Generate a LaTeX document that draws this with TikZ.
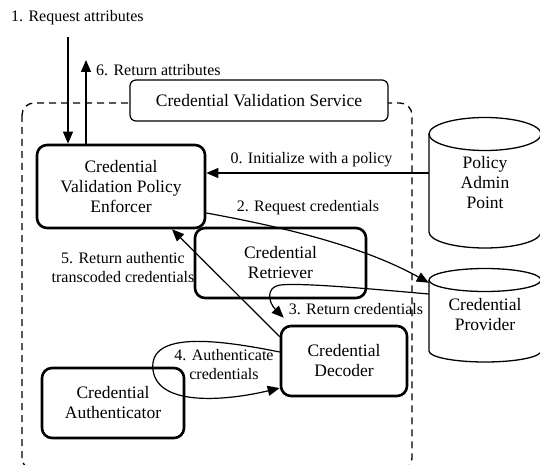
\documentclass[tikz,border=0pt]{standalone}
\usepackage{fontspec}
\setmainfont{Liberation Serif}
\usetikzlibrary{arrows.meta,calc}
\begin{document}
\begin{tikzpicture}[x=1pt,y=-1pt,
 box/.style={draw, line width=2.6pt, rounded corners=10pt, fill=white, align=center, font=\fontsize{17.5}{20}\selectfont, inner sep=0pt},
 cyltext/.style={align=center, font=\fontsize{17.5}{20}\selectfont, inner sep=0pt},
 cyl/.style={line width=1.3pt},
 lbl/.style={font=\fontsize{16}{19}\selectfont, align=center, inner sep=0pt},
 arr/.style={line width=1.2pt, -{Triangle[length=12pt,width=10pt]}},
]
\useasboundingbox (0,0) rectangle (540,465);
% dashed service boundary
\draw[line width=1.3pt, dash pattern=on 7pt off 5pt, rounded corners=12pt] (22,103) rectangle (412,470);
% service title box
\node[draw, line width=1.2pt, rounded corners=6pt, fill=white, font=\fontsize{17.5}{20}\selectfont, minimum width=258pt, minimum height=41pt, inner sep=0pt] (cvs) at (259,100.5) {Credential Validation Service};
% boxes
\node[box, minimum width=168pt, minimum height=83pt] (enf) at (121,186.5) {Credential\\Validation Policy\\Enforcer};
\node[box, minimum width=171pt, minimum height=70pt] (ret) at (280.5,263) {Credential\\Retriever};
\node[box, minimum width=126pt, minimum height=70pt] (dec) at (344,361) {Credential\\Decoder};
\node[box, minimum width=142pt, minimum height=70pt] (aut) at (113,403) {Credential\\Authenticator};
% cylinders
\draw[cyl, fill=white] (429,134) -- (429,232) arc[start angle=180, end angle=360, x radius=56pt, y radius=16pt] -- (541,134);
\draw[cyl, fill=white] (485,134) ellipse [x radius=56pt, y radius=16.5pt];
\node[cyltext, minimum width=112pt, minimum height=130pt] (pap) at (485,183) {Policy\\Admin\\Point};
\draw[cyl, fill=white] (429,280) -- (429,351) arc[start angle=180, end angle=360, x radius=56pt, y radius=11pt] -- (541,280);
\draw[cyl, fill=white] (485,280) ellipse [x radius=56pt, y radius=11.5pt];
\node[cyltext, minimum width=112pt, minimum height=94pt] (prov) at (485,315) {Credential\\Provider};
% connectors
\coordinate (t1) at (68,37);
\draw[arr] (t1) -- (t1 |- enf.north);
\coordinate (t6) at (86,60);
\draw[arr] (t6 |- enf.north) -- (t6);
\coordinate (p0) at ([yshift=10pt]pap.west);
\draw[arr] (p0) -- (p0 -| enf.east);
\draw[arr] ([yshift=-26.5pt]enf.east) .. controls (300,230) and (370,250) .. ([yshift=-15pt]prov.north west);
\draw[arr] ([yshift=21pt]prov.west) .. controls (350,287) and (300,283) .. (280,285) .. controls (266,287) and (268,302) .. ([xshift=4pt,yshift=7pt]dec.north west);
\draw[arr] ([yshift=-12pt]dec.north west) -- ([xshift=51pt]enf.south);
\draw[arr] ([yshift=9pt]dec.west) .. controls (220,340) and (148,330) .. (153,370) .. controls (158,408) and (230,400) .. ([yshift=-27pt]dec.west);
% labels
\node[lbl, anchor=west] (l1) at (11,18) {1. Request attributes};
\node[lbl, anchor=west] (l6) at (96,70) {6. Return attributes};
\node[lbl] (l0) at (311.5,160) {0. Initialize with a policy};
\node[lbl] (l2) at (308,208) {2. Request credentials};
\node[lbl] (l3) at (356,309) {3. Return credentials};
\node[lbl] (l4) at (224,365) {4. Authenticate\\credentials};
\node[lbl] (l5) at (123,267.5) {5. Return authentic\\transcoded credentials};
\end{tikzpicture}
\end{document}
